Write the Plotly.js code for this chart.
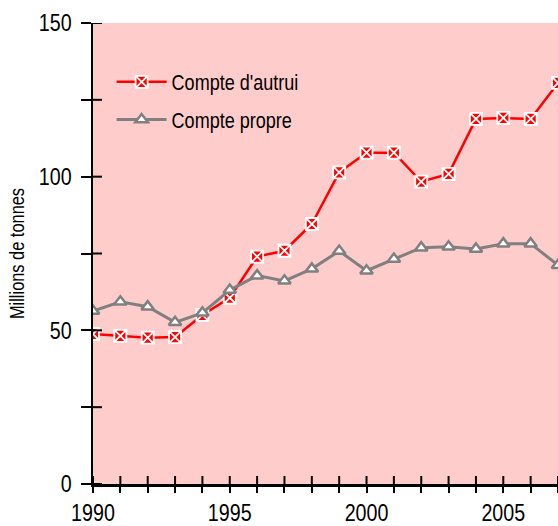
<!DOCTYPE html>
<html>
<head>
<meta charset="utf-8">
<script src="https://cdn.plot.ly/plotly-3.0.1.min.js"></script>
<style>html,body{margin:0;padding:0;background:#fff}#chart{width:558px;height:526px}</style>
</head>
<body>
<div id="chart"></div>
<script>
const years = [1990,1991,1992,1993,1994,1995,1996,1997,1998,1999,2000,2001,2002,2003,2004,2005,2006,2007];
const compteAutrui = [48.8,48.2,47.6,47.8,55.0,60.6,74.0,75.9,84.6,101.4,107.8,107.8,98.4,100.9,118.8,119.1,118.8,130.5];
const comptePropre = [56.3,59.3,57.7,52.6,55.7,63.1,67.8,66.1,70.0,75.8,69.4,73.2,76.9,77.2,76.5,78.2,78.2,71.2];
const seriesNames = ["Compte d'autrui", "Compte propre"];
const xTickLabels = {1990:"1990",1995:"1995",2000:"2000",2005:"2005"};
const yTickVals = [0,25,50,75,100,125,150];
const yTickLabels = ["0","","50","","100","","150"];
const yGridVals = [50,100];

const FONT = '"Liberation Sans", Arial, sans-serif';
const NARROW = 0.82;

const traces = [
  {
    x: years, y: compteAutrui, name: seriesNames[0], type: 'scatter', mode: 'lines+markers',
    line: {color: '#FF0000', width: 2.5},
    marker: {symbol: 'square-x', size: 12, color: '#FF0000', line: {color: '#FFFFFF', width: 1.8}},
    legend: 'legend'
  },
  {
    x: years, y: comptePropre, name: seriesNames[1], type: 'scatter', mode: 'lines+markers',
    line: {color: '#808080', width: 3},
    marker: {symbol: 'triangle-up', size: 11, color: '#FFFFFF', line: {color: '#808080', width: 2.5}},
    legend: 'legend2'
  }
];

const xText = years.map(y => xTickLabels[y] || '');

// inner half of the tick marks (the ticks cross the axis lines), placed through the axes
const innerTicks = [].concat(
  years.map(v => ({type: 'line', layer: 'above', xref: 'x', yref: 'y', ysizemode: 'pixel', yanchor: 0,
    x0: v, x1: v, y0: 0, y1: 8, line: {color: '#000000', width: 2}})),
  yTickVals.map(v => ({type: 'line', layer: 'above', xref: 'x', yref: 'y', xsizemode: 'pixel', xanchor: years[0],
    x0: 0, x1: 9, y0: v, y1: v, line: {color: '#000000', width: 2}}))
);

const layout = {
  width: 558, height: 526,
  margin: {l: 93, r: 0, t: 23, b: 42, pad: 0},
  paper_bgcolor: '#FFFFFF',
  plot_bgcolor: '#FFCCCC',
  font: {family: FONT, size: 22, color: '#000'},
  showlegend: true,
  legend: {x: 0.04, y: 0.872, xanchor: 'left', yanchor: 'middle', bgcolor: 'rgba(0,0,0,0)', font: {family: FONT, size: 22, color: '#000'}, itemwidth: 50},
  legend2: {x: 0.04, y: 0.790, xanchor: 'left', yanchor: 'middle', bgcolor: 'rgba(0,0,0,0)', font: {family: FONT, size: 22, color: '#000'}, itemwidth: 50},
  xaxis: {
    range: [1990, 2007], tickmode: 'array', tickvals: years, ticktext: xText,
    ticks: 'outside', ticklen: 6, tickwidth: 2, tickcolor: '#000',
    showline: true, linecolor: '#000', linewidth: 2.5,
    showgrid: false, zeroline: false,
    tickfont: {family: FONT, size: 24, color: '#000'}
  },
  yaxis: {
    range: [0, 150], tickmode: 'array', tickvals: yTickVals, ticktext: yTickLabels,
    ticks: 'outside', ticklen: 10, tickwidth: 2, tickcolor: '#000',
    showline: true, linecolor: '#000', linewidth: 2.5,
    showgrid: false, zeroline: false, ticklabelstandoff: 4,
    tickfont: {family: FONT, size: 24, color: '#000'},
    title: {text: 'Millions de tonnes', font: {family: FONT, size: 20, color: '#000'}, standoff: 2}
  },
  yaxis3: {
    overlaying: 'y', anchor: 'x', side: 'left', range: [0, 150],
    tickmode: 'array', tickvals: yGridVals, showticklabels: false, ticks: '',
    showline: false, showgrid: true, gridcolor: '#FFFFFF', gridwidth: 2.5, zeroline: false
  },
  shapes: innerTicks
};

// narrow the glyphs horizontally to imitate the condensed face of the original
function narrowText(gd) {
  gd.querySelectorAll('svg text').forEach(t => {
    const prev = t.getAttribute('transform') || '';
    if (prev.indexOf('scale(' + NARROW + ',1)') !== -1) return;
    const x = parseFloat(t.getAttribute('x') || '0') || 0;
    const y = parseFloat(t.getAttribute('y') || '0') || 0;
    t.setAttribute('transform', prev + ' translate(' + x + ',' + y + ') scale(' + NARROW + ',1) translate(' + (-x) + ',' + (-y) + ')');
  });
}

Plotly.newPlot('chart', traces, layout, {displayModeBar: false, staticPlot: true}).then(gd => {
  narrowText(gd);
  gd.on('plotly_afterplot', () => narrowText(gd));
  setTimeout(() => narrowText(gd), 50);
  setTimeout(() => narrowText(gd), 300);
});
</script>
</body>
</html>
